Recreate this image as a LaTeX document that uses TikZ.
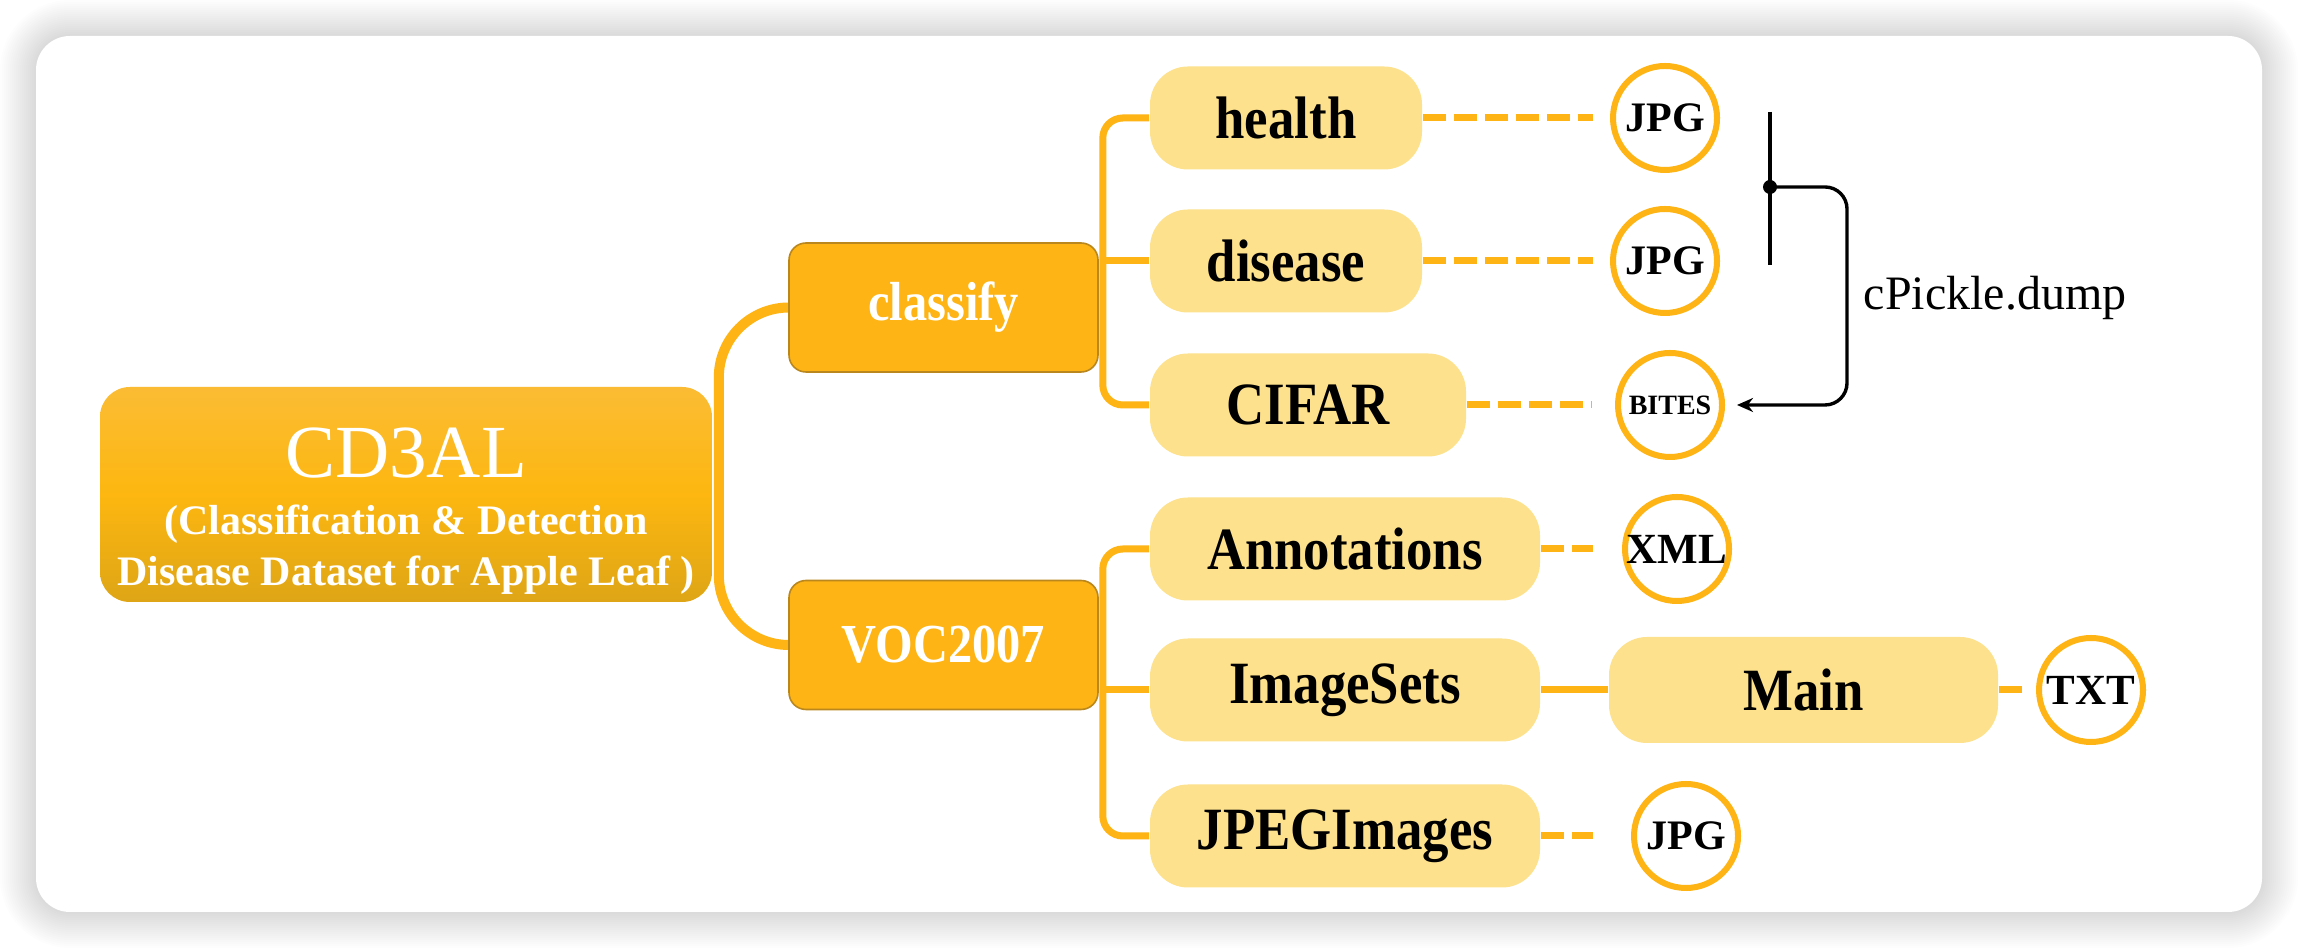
\documentclass[tikz,border=0pt]{standalone}
\usepackage{fontspec}
\setmainfont{Liberation Serif}
\newfontfamily\condfont{Liberation Serif}[FakeStretch=0.88]
\usetikzlibrary{arrows.meta,calc}
\definecolor{orangeA}{RGB}{253,180,20}
\definecolor{lightY}{RGB}{253,225,140}
\definecolor{borderA}{RGB}{185,135,30}
\definecolor{gradTop}{RGB}{251,188,52}
\definecolor{gradMid}{RGB}{253,183,16}
\definecolor{gradBot}{RGB}{222,165,22}
\pgfdeclarelayer{back}
\pgfdeclarelayer{links}
\pgfsetlayers{back,links,main}
\tikzset{
  rootbox/.style={rounded corners=7.5pt, top color=gradTop, bottom color=gradBot, middle color=gradMid,
    text=white, align=center, inner sep=0pt, minimum width=153pt, minimum height=53.75pt,
    font=\bfseries\fontsize{10.5}{12.75}\selectfont},
  midbox/.style={fill=orangeA, draw=borderA, line width=0.4pt, rounded corners=4.25pt, text=white,
    inner sep=0pt, minimum width=77.25pt, minimum height=32.25pt,
    font=\condfont\bfseries\fontsize{13.75}{16}\selectfont},
  leafbox/.style={fill=lightY, rounded corners=9.5pt, inner sep=0pt, minimum height=25.75pt,
    font=\condfont\bfseries\fontsize{15}{18}\selectfont},
  fmt/.style={circle, draw=orangeA, line width=1.5pt, fill=white, minimum size=26pt, inner sep=0pt,
    font=\bfseries\fontsize{10.5}{12}\selectfont},
  branch/.style={draw=orangeA, line width=1.75pt},
  trunk/.style={draw=orangeA, line width=2.5pt, rounded corners=17.5pt},
  dashlink/.style={draw=orangeA, line width=1.75pt, dash pattern=on 5.75pt off 2pt},
  blackline/.style={draw=black, line width=0.85pt},
}
\begin{document}
\begin{tikzpicture}[x=0.25pt,y=-0.25pt]
\useasboundingbox (0,0) rectangle (2298,948);
\begin{pgfonlayer}{back}
\fill[white] (0,0) rectangle (2298,948);
\foreach \i [evaluate=\i as \r using 8.5+0.5*\i, evaluate=\i as \d using 2*\i] in {1,...,18}
  \fill[black, opacity=0.008, rounded corners=\r pt] (36-\d,36-\d) rectangle (2262+\d,912+\d);
\fill[white, rounded corners=8.5pt] (36,36) rectangle (2262,912);
\end{pgfonlayer}

% nodes
\node[rootbox] (CD) at (406,494.5) {{\mdseries\fontsize{18.75}{22}\selectfont\rule{0pt}{20.5pt}CD3AL}\\[1.5pt]
  (Classification \& Detection\\Disease Dataset for Apple Leaf )};
\node[midbox] (classify) at (943.5,307.5) {classify};
\node[midbox] (VOC) at (943.5,645) {VOC2007};

\node[leafbox, minimum width=68pt] (health) at (1286,118) {health};
\node[leafbox, minimum width=68pt] (disease) at (1286,261) {disease};
\node[leafbox, minimum width=79pt] (CIFAR) at (1308,405) {CIFAR};
\node[leafbox, minimum width=97.5pt] (Annotations) at (1345,549) {Annotations};
\node[leafbox, minimum width=97.5pt] (ImageSets) at (1345,690) {ImageSets};
\node[leafbox, minimum width=97.5pt] (JPEGImages) at (1345,836) {JPEGImages};
\node[leafbox, minimum width=97.25pt, minimum height=26.5pt] (Main) at (1803.5,690) {Main};

\node[fmt] (c1) at (1665,118) {JPG};
\node[fmt] (c2) at (1665,261) {JPG};
\node[fmt, font=\bfseries\fontsize{7}{8}\selectfont] (c3) at (1670,405) {BITES};
\node[fmt, font=\bfseries\fontsize{10.75}{12}\selectfont] (c4) at (1677,549) {XML};
\node[fmt, font=\bfseries\fontsize{10.75}{12}\selectfont] (c5) at (2091,690) {TXT};
\node[fmt] (c6) at (1686,836) {JPG};

\node[anchor=base west, inner sep=0pt, font=\fontsize{12}{14}\selectfont] (lbl) at (1863,310) {cPickle.dump};

% connectors
\begin{pgfonlayer}{links}
\draw[trunk] (classify.west) -| ($(CD.east)+(6,0)$) |- (VOC.west);
\coordinate (cj) at ($(classify.east)+(4,0)$);
\draw[branch, rounded corners=5pt] (health.west) -| (cj) |- (CIFAR.west);
\draw[branch] (cj |- disease.west) -- (disease.west);
\coordinate (vj) at ($(VOC.east)+(4,0)$);
\draw[branch, rounded corners=5pt] (Annotations.west) -| (vj) |- (JPEGImages.west);
\draw[branch] (vj |- ImageSets.west) -- (ImageSets.west);
\draw[branch] (ImageSets.east) -- (Main.west);

\draw[dashlink, shorten >=4.25pt] (health.east) -- (c1);
\draw[dashlink, shorten >=4.25pt] (disease.east) -- (c2);
\draw[dashlink, shorten >=5.75pt] (CIFAR.east) -- (c3);
\draw[dashlink, shorten >=7.25pt] (Annotations.east) -- (c4);
\draw[dashlink, shorten >=2pt] (Main.east) -- (c5);
\draw[dashlink, shorten >=9.5pt] (JPEGImages.east) -- (c6);
\end{pgfonlayer}

\coordinate (vt) at (1770,112);
\coordinate (vb) at (1770,265);
\coordinate (pdot) at (1770,187);
\coordinate (bend) at (1847,187);
\draw[blackline] (vt) -- (vb);
\fill[black] (pdot) circle (1.75pt);
\draw[blackline, rounded corners=5.5pt, -{Stealth[length=4pt,width=3.5pt]}, shorten >=3pt] (pdot) -- (bend) |- (c3);
\end{tikzpicture}
\end{document}
